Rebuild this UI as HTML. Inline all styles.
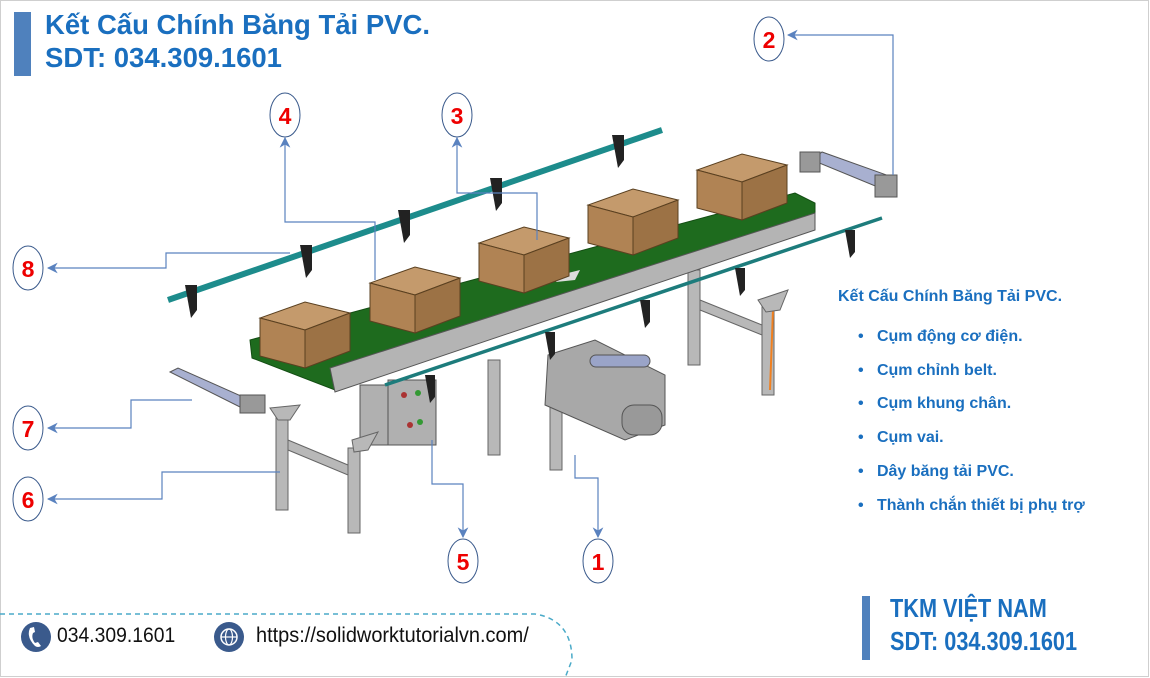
<!DOCTYPE html>
<html><head><meta charset="utf-8"><style>
body{margin:0;background:#fff;}
#c{position:relative;width:1150px;height:678px;overflow:hidden;font-family:"Liberation Sans",sans-serif;}
svg{position:absolute;left:0;top:0}
.t{position:absolute;color:#1a6fbf;}
</style></head><body><div id="c">
<svg width="1150" height="678" viewBox="0 0 1150 678">
<defs>
<marker id="a" viewBox="0 0 10 10" refX="9" refY="5" markerWidth="9" markerHeight="9" orient="auto"><path d="M0,0 L10,5 L0,10 L3,5z" fill="#5a82bf"/></marker>
</defs>
<rect x="0.5" y="0.5" width="1148" height="676" fill="none" stroke="#cfcfcf"/>
<rect x="14" y="12" width="17" height="64" fill="#4f81bd"/>
<rect x="862" y="596" width="8" height="64" fill="#4f81bd"/>
<path d="M0,614 L535,614 Q572,620 572,660 L565,678" fill="none" stroke="#4aaac8" stroke-width="1.5" stroke-dasharray="5,4"/>
<circle cx="36" cy="637" r="15" fill="#3a5a8c"/>
<path d="M30,628 q-4,9 5,18 q3,2 6,0 l-3,-4 l-3,1 q-4,-5 -2,-10 l2,-1 l-1,-5z" fill="#fff"/>
<circle cx="229" cy="637" r="15" fill="#3a5a8c"/>
<circle cx="229" cy="637" r="8" fill="none" stroke="#fff" stroke-width="1.5"/>
<ellipse cx="229" cy="637" rx="3.5" ry="8" fill="none" stroke="#fff" stroke-width="1.2"/>
<line x1="221" y1="637" x2="237" y2="637" stroke="#fff" stroke-width="1.2"/>

<line x1="168" y1="300" x2="662" y2="130" stroke="#1d8c8c" stroke-width="6"/>
<g fill="#222">
<path d="M185,285 h12 v25 l-6,8 z"/><path d="M300,245 h12 v25 l-6,8 z"/><path d="M398,210 h12 v25 l-6,8 z"/><path d="M490,178 h12 v25 l-6,8 z"/><path d="M612,135 h12 v25 l-6,8 z"/>
</g>
<g fill="#b8b8b8" stroke="#666" stroke-width="1">
<rect x="688" y="270" width="12" height="95"/><rect x="762" y="300" width="12" height="95"/>
<polygon points="700,300 762,325 762,335 700,310"/>
<rect x="488" y="360" width="12" height="95"/><rect x="550" y="400" width="12" height="70"/>
</g>
<line x1="773" y1="310" x2="770" y2="390" stroke="#f08020" stroke-width="2"/>
<polygon points="250,340 795,193 815,203 815,228 335,390 252,358" fill="#1e6b1e" stroke="#134d13"/>
<polygon points="330,368 815,213 815,230 335,392" fill="#b4b4b4" stroke="#555"/>
<polygon points="560,275 580,270 575,280 556,282" fill="#ddd"/>
<g stroke="#5a4020" stroke-width="1">
<g transform="translate(260,318)"><polygon points="0,0 45,12 90,-5 45,-16" fill="#c49a6c"/><polygon points="0,0 45,12 45,50 0,38" fill="#b08354"/><polygon points="45,12 90,-5 90,33 45,50" fill="#9c7245"/></g>
<g transform="translate(370,283)"><polygon points="0,0 45,12 90,-5 45,-16" fill="#c49a6c"/><polygon points="0,0 45,12 45,50 0,38" fill="#b08354"/><polygon points="45,12 90,-5 90,33 45,50" fill="#9c7245"/></g>
<g transform="translate(479,243)"><polygon points="0,0 45,12 90,-5 45,-16" fill="#c49a6c"/><polygon points="0,0 45,12 45,50 0,38" fill="#b08354"/><polygon points="45,12 90,-5 90,33 45,50" fill="#9c7245"/></g>
<g transform="translate(588,205)"><polygon points="0,0 45,12 90,-5 45,-16" fill="#c49a6c"/><polygon points="0,0 45,12 45,50 0,38" fill="#b08354"/><polygon points="45,12 90,-5 90,33 45,50" fill="#9c7245"/></g>
<g transform="translate(697,170)"><polygon points="0,0 45,12 90,-5 45,-16" fill="#c49a6c"/><polygon points="0,0 45,12 45,50 0,38" fill="#b08354"/><polygon points="45,12 90,-5 90,33 45,50" fill="#9c7245"/></g>
</g>
<g fill="#b0b0b0" stroke="#555">
<rect x="360" y="385" width="30" height="60"/>
<rect x="388" y="380" width="48" height="65"/>
<polygon points="548,355 595,340 665,375 665,425 625,440 545,405" fill="#a8a8a8"/>
<rect x="622" y="405" width="40" height="30" rx="12" fill="#999"/>
<rect x="590" y="355" width="60" height="12" rx="6" fill="#9aa4c8"/>
</g>
<circle cx="404" cy="395" r="3" fill="#a33"/><circle cx="418" cy="393" r="3" fill="#393"/><circle cx="410" cy="425" r="3" fill="#a33"/><circle cx="420" cy="422" r="3" fill="#393"/>
<line x1="385" y1="385" x2="882" y2="218" stroke="#1d7c7c" stroke-width="3.5"/>
<g fill="#222"><path d="M545,332 h10 v22 l-5,6z"/><path d="M640,300 h10 v22 l-5,6z"/><path d="M735,268 h10 v22 l-5,6z"/><path d="M845,230 h10 v22 l-5,6z"/><path d="M425,375 h10 v22 l-5,6z"/></g>
<g fill="#b8b8b8" stroke="#666">
<rect x="276" y="415" width="12" height="95"/><rect x="348" y="448" width="12" height="85"/>
<polygon points="288,440 348,465 348,475 288,450"/>
<polygon points="270,408 300,405 290,420 278,420"/><polygon points="352,440 378,432 368,450 354,452"/>
<polygon points="758,300 788,290 780,310 766,312"/>
</g>
<g stroke="#555" fill="#a8b0d0">
<polygon points="170,372 178,368 250,400 242,408"/>
<polygon points="812,160 822,152 895,178 885,190"/>
</g>
<g fill="#999" stroke="#555"><rect x="240" y="395" width="25" height="18"/><rect x="800" y="152" width="20" height="20"/><rect x="875" y="175" width="22" height="22"/></g>
<g fill="none" stroke="#5a82bf" stroke-width="1.2">
<polyline points="893,175 893,35 788,35" marker-end="url(#a)"/>
<polyline points="375,280 375,222 285,222 285,138" marker-end="url(#a)"/>
<polyline points="537,240 537,193 457,193 457,138" marker-end="url(#a)"/>
<polyline points="290,253 166,253 166,268 48,268" marker-end="url(#a)"/>
<polyline points="192,400 131,400 131,428 48,428" marker-end="url(#a)"/>
<polyline points="280,472 162,472 162,499 48,499" marker-end="url(#a)"/>
<polyline points="432,440 432,484 463,484 463,537" marker-end="url(#a)"/>
<polyline points="575,455 575,478 598,478 598,537" marker-end="url(#a)"/>
</g>
<g fill="#fff" stroke="#3a5a8c" stroke-width="1">
<ellipse cx="769" cy="39" rx="15" ry="22"/><ellipse cx="285" cy="115" rx="15" ry="22"/><ellipse cx="457" cy="115" rx="15" ry="22"/>
<ellipse cx="28" cy="268" rx="15" ry="22"/><ellipse cx="28" cy="428" rx="15" ry="22"/><ellipse cx="28" cy="499" rx="15" ry="22"/>
<ellipse cx="463" cy="561" rx="15" ry="22"/><ellipse cx="598" cy="561" rx="15" ry="22"/>
</g>
<g fill="#e00" font-family="Liberation Sans" font-weight="bold" font-size="23" text-anchor="middle">
<text x="769" y="48">2</text><text x="285" y="124">4</text><text x="457" y="124">3</text><text x="28" y="277">8</text><text x="28" y="437">7</text><text x="28" y="508">6</text><text x="463" y="570">5</text><text x="598" y="570">1</text>
</g>
</svg>
<div class="t" style="left:45px;top:8px;font-size:27.5px;line-height:33px;font-weight:bold;">Kết Cấu Chính Băng Tải PVC.<br>SDT: 034.309.1601</div>
<div class="t" style="left:838px;top:288px;font-size:16px;font-weight:bold;">Kết Cấu Chính Băng Tải PVC.</div>
<div class="t" style="left:858px;top:320px;font-size:16px;line-height:33.7px;font-weight:bold;">
<div>•&nbsp;&nbsp;&nbsp;Cụm động cơ điện.</div><div>•&nbsp;&nbsp;&nbsp;Cụm chỉnh belt.</div><div>•&nbsp;&nbsp;&nbsp;Cụm khung chân.</div><div>•&nbsp;&nbsp;&nbsp;Cụm vai.</div><div>•&nbsp;&nbsp;&nbsp;Dây băng tải PVC.</div><div>•&nbsp;&nbsp;&nbsp;Thành chắn thiết bị phụ trợ</div></div>
<div class="t" style="left:890px;top:592px;font-size:26px;line-height:33px;font-weight:bold;transform:scaleX(0.835);transform-origin:left;">TKM VIỆT NAM<br>SDT: 034.309.1601</div>
<div style="position:absolute;left:57px;top:624px;font-size:21px;color:#111;transform:scaleX(0.92);transform-origin:left;">034.309.1601</div>
<div style="position:absolute;left:256px;top:624px;font-size:21px;color:#111;transform:scaleX(0.95);transform-origin:left;">https://solidworktutorialvn.com/</div>
</div></body></html>
